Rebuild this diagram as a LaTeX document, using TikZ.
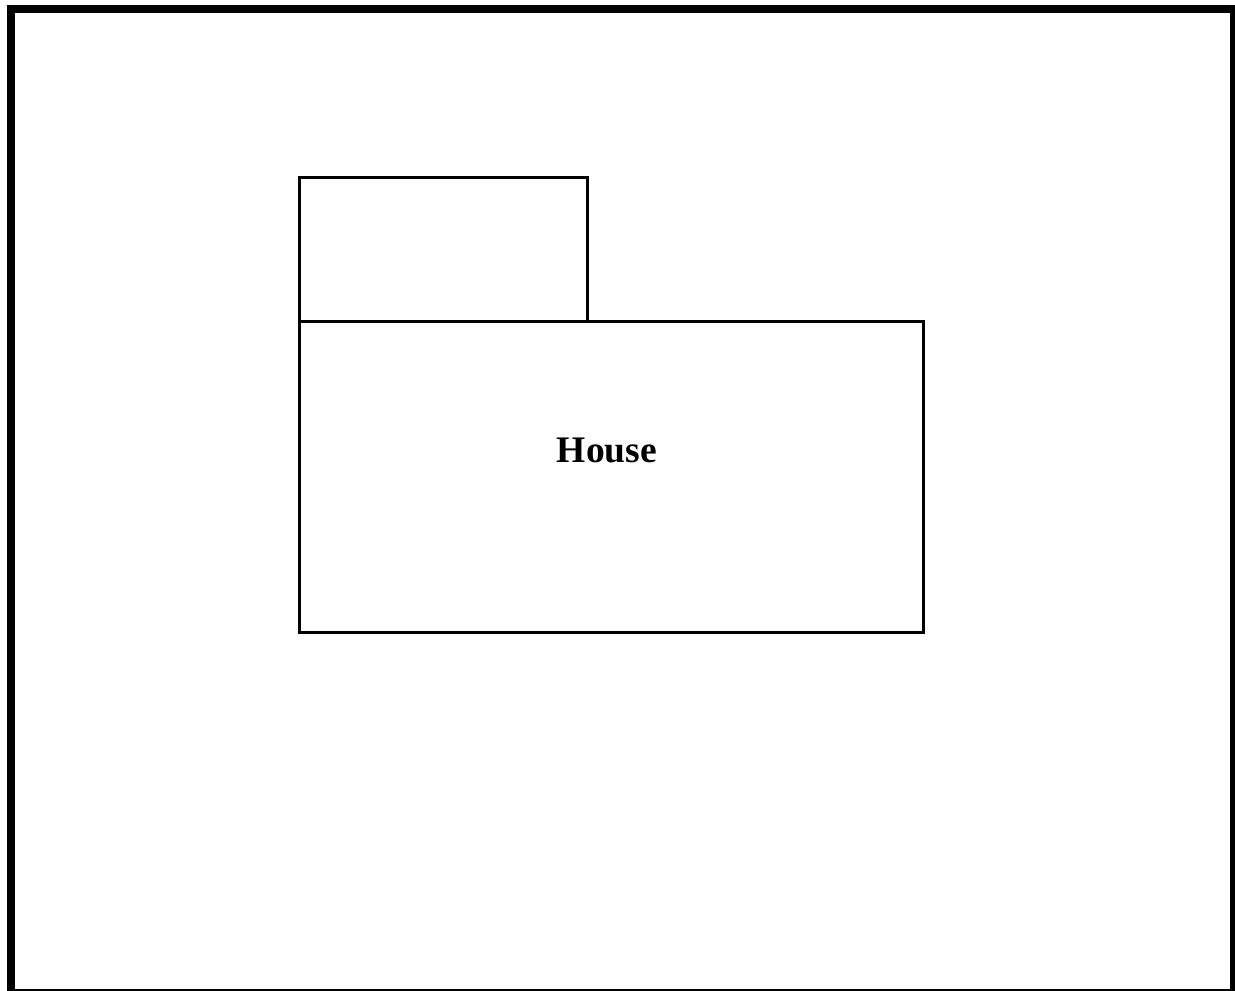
\documentclass[tikz,border=0pt]{standalone}
\usepackage{fontspec}
\setmainfont{Liberation Serif}
\begin{document}
\begin{tikzpicture}[x=1pt,y=-1pt,
  pkgpart/.style={draw=black,line width=3pt,fill=white,inner sep=0pt,outer sep=0pt,rectangle},
  frameline/.style={draw=black,line width=8pt},
  pkglabel/.style={font=\fontsize{37.5}{40}\selectfont\bfseries,inner sep=0pt}]
\useasboundingbox (0,0) rectangle (1235,991);
\clip (0,0) rectangle (1235,991);
\draw[frameline] (11,9) rectangle (1234,993);
\node[pkgpart,minimum width=288pt,minimum height=144pt] (tab) at (443,249) {};
\node[pkgpart,minimum width=624pt,minimum height=311pt] (body) at (611,476.5) {};
\node[pkglabel,anchor=base] (lbl) at (607,462) {House};
\end{tikzpicture}
\end{document}
